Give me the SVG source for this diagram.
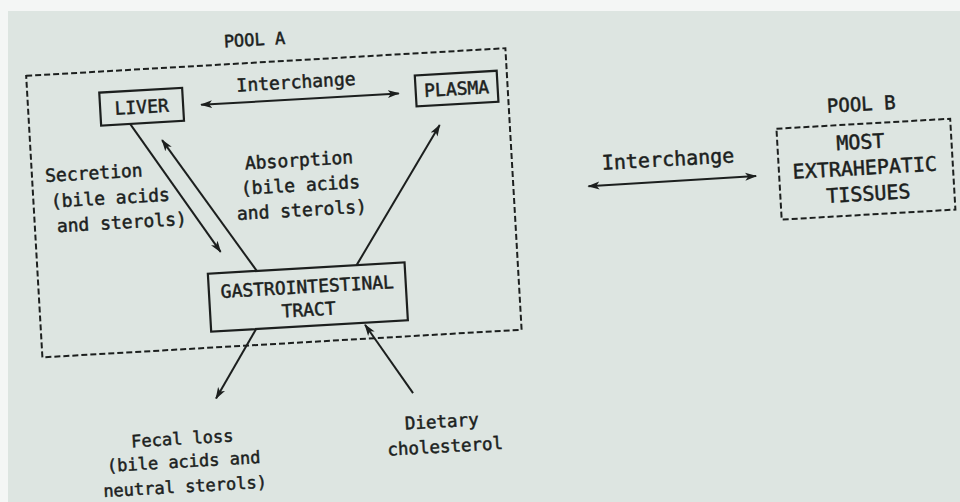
<svg xmlns="http://www.w3.org/2000/svg" width="960" height="502" viewBox="0 0 960 502">
  <defs>
    <style>
      .t { font-family: "DejaVu Sans Mono", "Liberation Mono", monospace; fill: #1c1f1e; stroke: #1c1f1e; stroke-width: 0.5; text-anchor: middle; font-size: 18px; }
      .box { fill: none; stroke: #1c1f1e; stroke-width: 2.2; }
      .dash { fill: none; stroke: #1c1f1e; stroke-width: 2; stroke-dasharray: 6 3; }
      .arr { fill: none; stroke: #1c1f1e; stroke-width: 2; marker-end: url(#ah); }
      .arr2 { fill: none; stroke: #1c1f1e; stroke-width: 2; marker-end: url(#ah); marker-start: url(#ah); }
    </style>
    <marker id="ah" viewBox="0 0 12 10" refX="11" refY="5" markerWidth="12" markerHeight="10" markerUnits="userSpaceOnUse" orient="auto-start-reverse">
      <path d="M0,1 L12,5 L0,9 L3,5 z" fill="#1c1f1e"/>
    </marker>
  </defs>
  <rect x="0" y="0" width="960" height="502" fill="#f4f6f5"/>
  <rect x="8" y="11" width="952" height="491" fill="#dde5e1"/>
  <g transform="rotate(-3.3 480 251)">
    <g id="pool-a">
      <rect class="dash" x="37" y="50" width="480" height="282"/>
      <text class="t" x="267" y="33" style="font-size:17px">POOL A</text>
    </g>
    <g id="liver">
      <rect class="box" x="109" y="71" width="83" height="33"/>
      <text class="t" x="150.5" y="94">LIVER</text>
    </g>
    <g id="plasma">
      <rect class="box" x="425" y="72" width="82" height="31"/>
      <text class="t" x="466" y="94">PLASMA</text>
    </g>
    <g id="gi-tract">
      <rect class="box" x="207" y="258" width="197" height="58"/>
      <text class="t" x="305.5" y="283">GASTROINTESTINAL</text>
      <text class="t" x="305.5" y="306">TRACT</text>
    </g>
    <g id="pool-b">
      <text class="t" x="869" y="133" style="font-size:19px">POOL B</text>
      <rect class="dash" x="783" y="146" width="174" height="91"/>
      <text class="t" x="866" y="171" style="font-size:20px">MOST</text>
      <text class="t" x="869" y="197" style="font-size:20px">EXTRAHEPATIC</text>
      <text class="t" x="871" y="223" style="font-size:20px">TISSUES</text>
    </g>
    <g id="dietary">
      <text class="t" x="432" y="425" style="font-size:17.5px">Dietary</text>
      <text class="t" x="434" y="450" style="font-size:17.5px">cholesterol</text>
    </g>
    <g id="fecal-loss">
      <text class="t" x="172" y="427" style="font-size:17px">Fecal loss</text>
      <text class="t" x="172" y="450" style="font-size:17px">(bile acids and</text>
      <text class="t" x="172" y="475" style="font-size:17px">neutral sterols)</text>
    </g>
    <g id="connectors">
      <line class="arr2" x1="210" y1="89" x2="408" y2="89"/>
      <line class="arr2" x1="592" y1="192.5" x2="760" y2="192"/>
      <line class="arr" x1="138" y1="104" x2="221" y2="237"/>
      <line class="arr" x1="256" y1="258" x2="169" y2="122"/>
      <line class="arr" x1="356" y1="258" x2="447" y2="123"/>
      <line class="arr" x1="252" y1="316" x2="208" y2="383"/>
      <line class="arr" x1="405" y1="389" x2="361" y2="318"/>
    </g>
    <g id="labels">
      <text class="t" x="306" y="78">Interchange</text>
      <text class="t" x="673" y="177" style="font-size:20px">Interchange</text>
      <text class="t" x="99" y="157">Secretion</text>
      <text class="t" x="114" y="183">(bile acids</text>
      <text class="t" x="124" y="208">and sterols)</text>
      <text class="t" x="304.5" y="156">Absorption</text>
      <text class="t" x="304.5" y="181">(bile acids</text>
      <text class="t" x="304.5" y="206">and sterols)</text>
    </g>
  </g>
</svg>
